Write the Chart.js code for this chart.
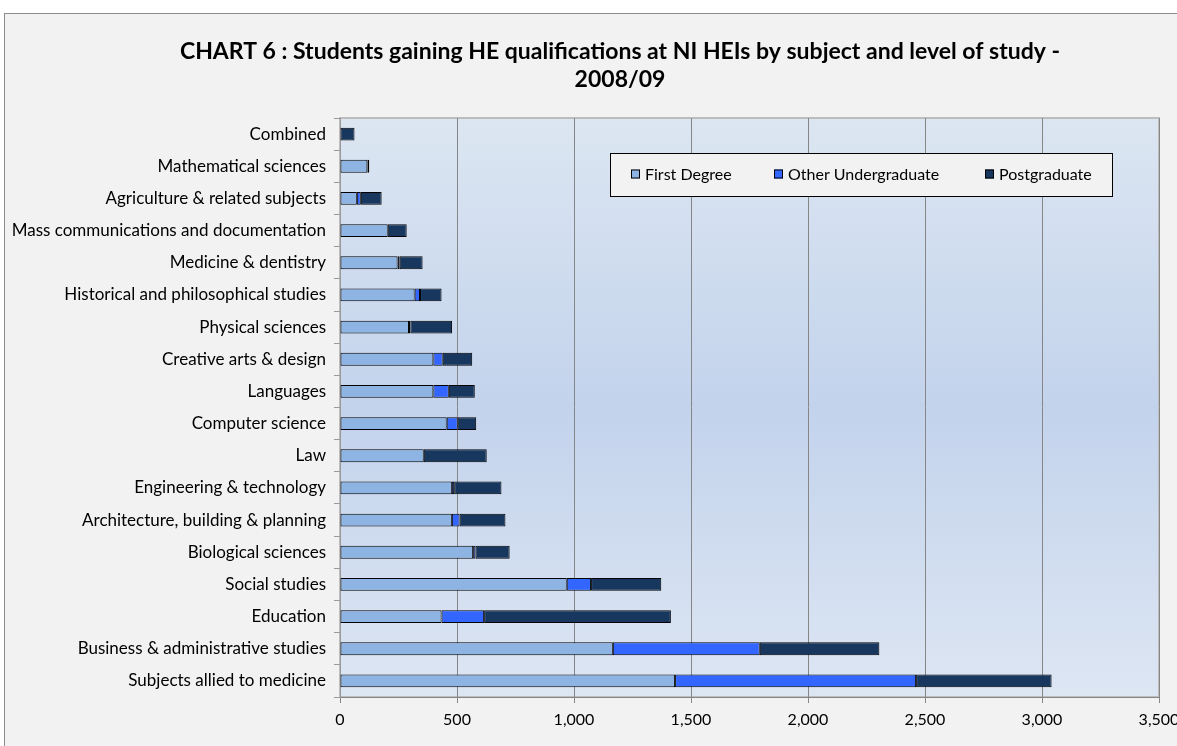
<!DOCTYPE html>
<html>
<head>
<meta charset="utf-8">
<script src="https://cdn.jsdelivr.net/npm/chart.js@4/dist/chart.umd.min.js"></script>
<style>
  html, body { margin: 0; padding: 0; background: #fff; overflow: hidden; }
  #frame {
    position: absolute; left: 4px; top: 13px; width: 1200px; height: 760px;
    background: #f2f2f2; border: 1px solid #8c8c8c;
  }
  #wrap { position: absolute; left: 0; top: 0; width: 1240px; height: 746px; }
</style>
</head>
<body>
<div id="frame"></div>
<div id="wrap"><canvas id="chart"></canvas></div>
<script>
// ── Data ────────────────────────────────────────────────

const subjects = [
  'Combined',
  'Mathematical sciences',
  'Agriculture & related subjects',
  'Mass communications and documentation',
  'Medicine & dentistry',
  'Historical and philosophical studies',
  'Physical sciences',
  'Creative arts & design',
  'Languages',
  'Computer science',
  'Law',
  'Engineering & technology',
  'Architecture, building & planning',
  'Biological sciences',
  'Social studies',
  'Education',
  'Business & administrative studies',
  'Subjects allied to medicine',
];

const firstDegree = [0, 117, 72, 204, 246, 319, 295, 399, 399, 456, 358, 478, 478, 569, 969, 434, 1166, 1432];
const otherUndergrad = [0, 0, 17, 0, 9, 23, 6, 40, 66, 47, 0, 10, 33, 10, 104, 182, 628, 1030];
const postgraduate = [62, 8, 89, 81, 98, 92, 178, 126, 111, 79, 269, 202, 196, 146, 300, 798, 511, 579];

const xTicks = [0, 500, 1000, 1500, 2000, 2500, 3000, 3500];

const COLORS = {
  first: '#8eb4e3',
  other: '#3366ff',
  post: '#17375e',
};

const FONT = "Lato, 'Open Sans', sans-serif";

// ── Plugins ─────────────────────────────────────────────

// centre the title over the whole (wider) frame, not the padded layout
const titleSpan = {
  id: 'titleSpan',
  afterLayout(chart) {
    if (chart.titleBlock) {
      chart.titleBlock.left = 0;
      chart.titleBlock.right = chart.width;
    }
  },
};

// plot area gradient + frame
const plotBackground = {
  id: 'plotBackground',
  beforeDraw(chart) {
    const { ctx, chartArea: a } = chart;
    const g = ctx.createLinearGradient(0, a.top, 0, a.bottom);
    g.addColorStop(0, '#dce6f2');
    g.addColorStop(0.5, '#c3d3ec');
    g.addColorStop(1, '#dde6f3');
    ctx.save();
    ctx.fillStyle = g;
    ctx.fillRect(a.left, a.top, a.right - a.left, a.bottom - a.top);
    ctx.strokeStyle = '#bdbdbd';
    ctx.lineWidth = 2;
    ctx.strokeRect(a.left, a.top, a.right - a.left, a.bottom - a.top);
    ctx.restore();
  },
};

// boxed legend sitting inside the plot area
const boxLegend = {
  id: 'boxLegend',
  afterDraw(chart) {
    const { ctx } = chart;
    const box = { x: 610, y: 153, w: 502, h: 43 };
    const itemX = [631, 774, 985];
    ctx.save();
    ctx.fillStyle = '#f2f2f2';
    ctx.fillRect(box.x, box.y, box.w, box.h);
    ctx.strokeStyle = '#000';
    ctx.lineWidth = 1;
    ctx.strokeRect(box.x + 0.5, box.y + 0.5, box.w, box.h);
    ctx.font = '16px ' + FONT;
    ctx.textBaseline = 'middle';
    chart.data.datasets.forEach((ds, i) => {
      const cy = box.y + box.h / 2;
      ctx.fillStyle = ds.backgroundColor;
      ctx.fillRect(itemX[i], cy - 5, 9, 9);
      ctx.strokeStyle = '#000';
      ctx.strokeRect(itemX[i] + 0.5, cy - 4.5, 8, 8);
      ctx.fillStyle = '#000';
      ctx.fillText(ds.label, itemX[i] + 14, cy);
    });
    ctx.restore();
  },
};

// ── Chart ───────────────────────────────────────────────

const barStyle = {
  borderColor: '#000',
  borderWidth: 1,
  borderSkipped: false,
  categoryPercentage: 0.4,
  barPercentage: 1,
};

new Chart(document.getElementById('chart'), {
  type: 'bar',
  data: {
    labels: subjects,
    datasets: [
      { label: 'First Degree', data: firstDegree, backgroundColor: COLORS.first, ...barStyle },
      { label: 'Other Undergraduate', data: otherUndergrad, backgroundColor: COLORS.other, ...barStyle },
      { label: 'Postgraduate', data: postgraduate, backgroundColor: COLORS.post, ...barStyle },
    ],
  },
  options: {
    indexAxis: 'y',
    responsive: true,
    maintainAspectRatio: false,
    animation: false,
    layout: { padding: { left: 0, right: 81, top: 0, bottom: 0 } },
    plugins: {
      legend: { display: false },
      tooltip: { enabled: false },
      title: {
        display: true,
        text: ['CHART 6 : Students gaining HE qualifications at NI HEIs by subject and level of study -', '2008/09'],
        color: '#000',
        font: { family: FONT, size: 23, weight: 'bold', lineHeight: '28px' },
        padding: { top: 38, bottom: 24 },
      },
    },
    scales: {
      x: {
        stacked: true,
        min: 0,
        max: 3500,
        afterBuildTicks: s => { s.ticks = xTicks.map(v => ({ value: v })); },
        afterFit: s => { s.height = 49; },
        grid: { color: '#868686', tickLength: 6, tickColor: '#868686' },
        border: { color: '#868686' },
        ticks: {
          color: '#000',
          padding: 7,
          font: { family: FONT, size: 16 },
          callback: v => v.toLocaleString('en-US'),
        },
      },
      y: {
        stacked: true,
        afterFit: s => { s.width = 340; },
        grid: { offset: true, drawOnChartArea: false, tickLength: 6, tickColor: '#9a9a9a' },
        border: { color: '#9a9a9a' },
        ticks: {
          color: '#000',
          padding: 8,
          font: { family: FONT, size: 17 },
        },
      },
    },
  },
  plugins: [titleSpan, plotBackground, boxLegend],
});
</script>
</body>
</html>
